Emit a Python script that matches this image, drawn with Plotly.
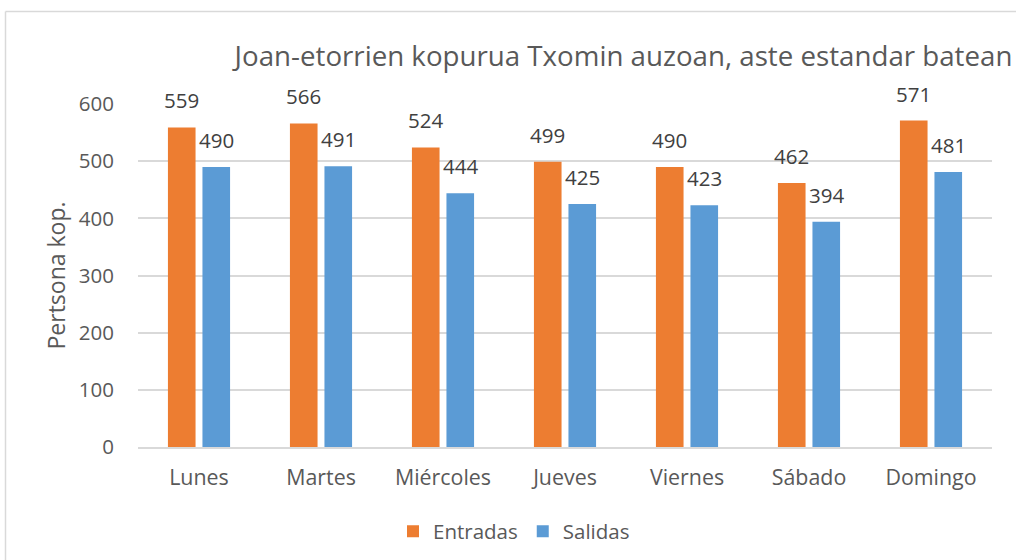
import plotly.graph_objects as go

categories = ["Lunes", "Martes", "Miércoles", "Jueves", "Viernes", "Sábado", "Domingo"]
entradas = [559, 566, 524, 499, 490, 462, 571]
salidas = [490, 491, 444, 425, 423, 394, 481]
y_ticks = [0, 100, 200, 300, 400, 500, 600]

title_text = "Joan-etorrien kopurua Txomin auzoan, aste estandar batean"
y_title = "Pertsona kop."

ORANGE = "#ED7D31"
BLUE = "#5B9BD5"
TEXT = "#595959"
LABEL = "#404040"
GRID = "#D9D9D9"
FONT = "Open Sans"

W, H = 1016, 560
ML, MR, MT, MB = 138, 24, 104, 113
PW, PH = W - ML - MR, H - MT - MB

fig = go.Figure()
fig.add_trace(go.Bar(name="Entradas", x=categories, y=entradas, marker_color=ORANGE,
                     marker_line_width=0))
fig.add_trace(go.Bar(name="Salidas", x=categories, y=salidas, marker_color=BLUE,
                     marker_line_width=0))

for series, shift in ((entradas, -17.3), (salidas, 17.3)):
    for c, v in zip(categories, series):
        fig.add_annotation(x=c, y=v, text=str(v), showarrow=False, xshift=shift,
                           yanchor="bottom", yshift=11,
                           font=dict(family=FONT, size=20.5, color=LABEL))

bx = (5.5 - ML) / PW
by = 1 + (MT - 11.5) / PH

fig.update_layout(
    width=W, height=H,
    paper_bgcolor="white", plot_bgcolor="white",
    margin=dict(l=ML, r=MR, t=MT, b=MB),
    barmode="group", bargap=0.434, bargroupgap=0.2,
    font=dict(family=FONT, color=TEXT),
    title=dict(text=title_text, xref="container", yref="container",
               x=623.5 / W, xanchor="center", y=1 - 56 / H, yanchor="middle",
               font=dict(family=FONT, size=27.7, color=TEXT)),
    legend=dict(orientation="h", xref="container", yref="container",
                x=393 / W, xanchor="left", y=1 - 531.5 / H, yanchor="middle",
                font=dict(family=FONT, size=20.5, color=TEXT),
                itemwidth=30, tracegroupgap=0),
    showlegend=True,
    shapes=[
        dict(type="line", xref="paper", yref="paper", x0=bx, x1=1.2,
             y0=by, y1=by, line=dict(color=GRID, width=1.5)),
        dict(type="line", xref="paper", yref="paper", x0=bx, x1=bx,
             y0=by, y1=-0.6, line=dict(color=GRID, width=1.5)),
    ],
)

fig.update_xaxes(showgrid=False, showline=True, linecolor=GRID, linewidth=1.5,
                 ticks="", tickfont=dict(family=FONT, size=21.4, color=TEXT),
                 ticklabelstandoff=11)
fig.update_yaxes(range=[0, 600], tickvals=y_ticks, showgrid=True, gridcolor=GRID,
                 gridwidth=1.5, zeroline=False, showline=False, ticks="",
                 tickfont=dict(family=FONT, size=20.5, color=TEXT),
                 ticklabelstandoff=23,
                 title=dict(text=y_title, standoff=6,
                            font=dict(family=FONT, size=23, color=TEXT)))

fig.write_html("out.html",
               config={"displayModeBar": False},
               post_script="document.body.style.margin='0';"
                           "document.body.style.overflow='hidden';")
